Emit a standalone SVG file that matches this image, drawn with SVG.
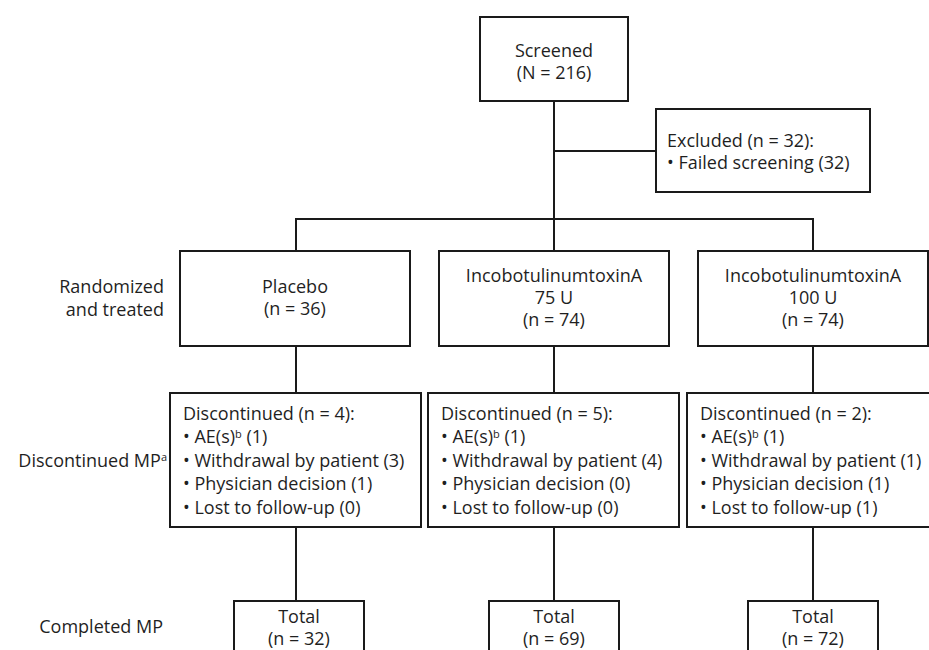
<svg xmlns="http://www.w3.org/2000/svg" width="929" height="650" viewBox="0 0 929 650">
<style>
  .box { fill: #ffffff; stroke: #1a1a1a; stroke-width: 2; }
  .ln { fill: none; stroke: #1a1a1a; stroke-width: 2; }
  text { font-family: "Open Sans", "Noto Sans", "DejaVu Sans", sans-serif; font-size: 18px; fill: #1f1f1f; }
  .c { text-anchor: middle; }
  .r { text-anchor: end; }
  .sup { font-size: 11px; }
</style>
<rect width="929" height="650" fill="#ffffff"/>
<g id="connectors">
  <path class="ln" d="M554 101 V251"/>
  <path class="ln" d="M554 151 H656"/>
  <path class="ln" d="M296 251 V219 H813 V251"/>
  <path class="ln" d="M296 346 V393"/>
  <path class="ln" d="M554 346 V393"/>
  <path class="ln" d="M813 346 V393"/>
  <path class="ln" d="M296 527 V601"/>
  <path class="ln" d="M554 527 V601"/>
  <path class="ln" d="M813 527 V601"/>
</g>
<g id="screened">
  <rect class="box" x="480" y="17" width="148" height="84"/>
  <text class="c" x="554" y="57">Screened</text>
  <text class="c" x="554" y="79">(N = 216)</text>
</g>
<g id="excluded">
  <rect class="box" x="656" y="109" width="214" height="83"/>
  <text x="667" y="147">Excluded (n = 32):</text>
  <text x="667" y="169">• Failed screening (32)</text>
</g>
<g id="row-labels">
  <text class="r" x="164" y="293">Randomized</text>
  <text class="r" x="164" y="316">and treated</text>
  <text class="r" x="167" y="467">Discontinued MP<tspan class="sup" dy="-6">a</tspan></text>
  <text class="r" x="163" y="633">Completed MP</text>
</g>
<g id="placebo">
  <rect class="box" x="180" y="251" width="230" height="95"/>
  <text class="c" x="295" y="293">Placebo</text>
  <text class="c" x="295" y="315">(n = 36)</text>
</g>
<g id="inco75">
  <rect class="box" x="439" y="251" width="230" height="95"/>
  <text class="c" x="554" y="282">IncobotulinumtoxinA</text>
  <text class="c" x="554" y="304">75 U</text>
  <text class="c" x="554" y="326">(n = 74)</text>
</g>
<g id="inco100">
  <rect class="box" x="698" y="251" width="230" height="95"/>
  <text class="c" x="813" y="282">IncobotulinumtoxinA</text>
  <text class="c" x="813" y="304">100 U</text>
  <text class="c" x="813" y="326">(n = 74)</text>
</g>
<g id="disc-placebo">
  <rect class="box" x="170" y="393" width="251" height="134"/>
  <text x="183" y="420">Discontinued (n = 4):</text>
  <text x="183" y="443">• AE(s)<tspan class="sup" dy="-5">b</tspan><tspan dy="5"> (1)</tspan></text>
  <text x="183" y="467">• Withdrawal by patient (3)</text>
  <text x="183" y="490">• Physician decision (1)</text>
  <text x="183" y="514">• Lost to follow-up (0)</text>
</g>
<g id="disc-inco75">
  <rect class="box" x="428" y="393" width="251" height="134"/>
  <text x="441" y="420">Discontinued (n = 5):</text>
  <text x="441" y="443">• AE(s)<tspan class="sup" dy="-5">b</tspan><tspan dy="5"> (1)</tspan></text>
  <text x="441" y="467">• Withdrawal by patient (4)</text>
  <text x="441" y="490">• Physician decision (0)</text>
  <text x="441" y="514">• Lost to follow-up (0)</text>
</g>
<g id="disc-inco100">
  <rect class="box" x="687" y="393" width="251" height="134"/>
  <text x="700" y="420">Discontinued (n = 2):</text>
  <text x="700" y="443">• AE(s)<tspan class="sup" dy="-5">b</tspan><tspan dy="5"> (1)</tspan></text>
  <text x="700" y="467">• Withdrawal by patient (1)</text>
  <text x="700" y="490">• Physician decision (1)</text>
  <text x="700" y="514">• Lost to follow-up (1)</text>
</g>
<g id="total-placebo">
  <rect class="box" x="234" y="601" width="130" height="70"/>
  <text class="c" x="299" y="623">Total</text>
  <text class="c" x="299" y="645">(n = 32)</text>
</g>
<g id="total-inco75">
  <rect class="box" x="489" y="601" width="130" height="70"/>
  <text class="c" x="554" y="623">Total</text>
  <text class="c" x="554" y="645">(n = 69)</text>
</g>
<g id="total-inco100">
  <rect class="box" x="748" y="601" width="130" height="70"/>
  <text class="c" x="813" y="623">Total</text>
  <text class="c" x="813" y="645">(n = 72)</text>
</g>
</svg>
